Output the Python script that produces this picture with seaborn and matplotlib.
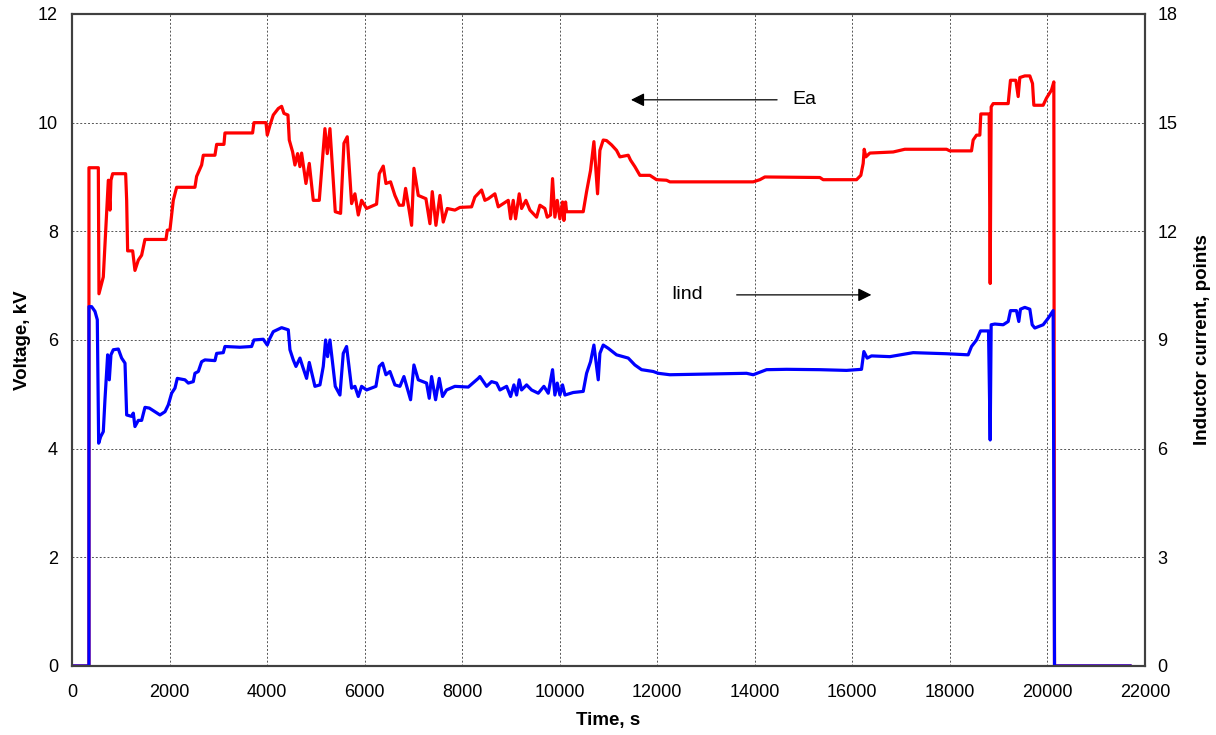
import matplotlib
matplotlib.use("Agg")
import matplotlib.pyplot as plt
import seaborn as sns
import pandas as pd

# ---- data -------------------------------------------------------------
ea_time = [0, 348, 348, 540, 553, 642, 676, 745, 779, 799, 834, 1100, 1121, 1141, 1244,
           1291, 1360, 1428, 1496, 1927, 1954, 2009, 2077, 2146, 2521, 2555, 2658, 2692,
           2931, 2966, 3116, 3136, 3703, 3731, 3977, 4004, 4059, 4127, 4230, 4298, 4346,
           4428, 4455, 4524, 4571, 4626, 4674, 4708, 4797, 4865, 4947, 5070, 5186, 5234,
           5289, 5398, 5507, 5576, 5644, 5733, 5801, 5870, 5938, 6040, 6245, 6300, 6382,
           6437, 6532, 6621, 6710, 6792, 6840, 6963, 7011, 7100, 7257, 7339, 7387, 7462,
           7544, 7612, 7694, 7851, 7954, 8193, 8261, 8398, 8466, 8535, 8671, 8740, 8842,
           8945, 8993, 9047, 9095, 9170, 9218, 9307, 9389, 9526, 9594, 9696, 9744, 9812,
           9853, 9901, 9949, 10004, 10058, 10086, 10120, 10141, 10482, 10551, 10632, 10701,
           10776, 10824, 10892, 10960, 11063, 11165, 11234, 11405, 11452, 11541, 11644,
           11849, 11985, 12190, 12259, 13967, 14104, 14206, 15334, 15402, 16086, 16174,
           16222, 16243, 16277, 16359, 16837, 17076, 17931, 17999, 18443, 18477, 18546,
           18614, 18634, 18805, 18826, 18846, 18887, 19195, 19242, 19352, 19400, 19434,
           19536, 19639, 19694, 19721, 19912, 19980, 20083, 20131, 20145, 21710]
ea_kv = [0, 0, 9.17, 9.17, 6.85, 7.16, 7.74, 8.94, 8.39, 8.94, 9.06, 9.06, 8.57, 7.64, 7.64,
         7.28, 7.47, 7.56, 7.85, 7.85, 8.02, 8.03, 8.57, 8.81, 8.81, 9.01, 9.22, 9.40,
         9.40, 9.60, 9.60, 9.81, 9.81, 10.00, 10.00, 9.77, 9.95, 10.14, 10.26, 10.30, 10.17,
         10.14, 9.68, 9.46, 9.22, 9.43, 9.19, 9.44, 8.88, 9.25, 8.57, 8.57, 9.89, 9.43,
         9.89, 8.36, 8.33, 9.62, 9.74, 8.51, 8.69, 8.30, 8.57, 8.42, 8.50, 9.06, 9.20,
         8.88, 8.91, 8.66, 8.48, 8.48, 8.79, 8.11, 9.16, 8.66, 8.60, 8.14, 8.73, 8.11,
         8.66, 8.17, 8.42, 8.39, 8.44, 8.45, 8.63, 8.76, 8.57, 8.60, 8.69, 8.45, 8.51,
         8.57, 8.23, 8.57, 8.23, 8.69, 8.42, 8.57, 8.39, 8.26, 8.48, 8.42, 8.26, 8.30,
         8.97, 8.26, 8.57, 8.23, 8.54, 8.20, 8.54, 8.36, 8.36, 8.73, 9.12, 9.65,
         8.69, 9.49, 9.68, 9.67, 9.59, 9.49, 9.37, 9.40, 9.31, 9.19, 9.03,
         9.03, 8.95, 8.94, 8.91, 8.91, 8.95, 9.00, 8.99, 8.95, 8.95, 9.03,
         9.25, 9.51, 9.37, 9.44, 9.46, 9.51, 9.51, 9.48, 9.48, 9.68, 9.77,
         9.77, 10.16, 10.16, 7.04, 10.29, 10.35, 10.35, 10.78, 10.78, 10.48, 10.83,
         10.86, 10.86, 10.72, 10.32, 10.32, 10.45, 10.60, 10.75, 0, 0]

iind_time = [0, 348, 348, 403, 471, 519, 547, 588, 642, 676, 731, 765, 799, 847, 950, 1018,
             1087, 1121, 1223, 1257, 1291, 1360, 1428, 1496, 1585, 1701, 1804, 1907, 1975,
             2043, 2111, 2159, 2316, 2385, 2487, 2521, 2590, 2658, 2726, 2931, 2966, 3102,
             3136, 3444, 3683, 3731, 3922, 4004, 4059, 4127, 4298, 4435, 4469, 4537, 4592,
             4674, 4728, 4810, 4865, 4981, 5084, 5152, 5200, 5241, 5289, 5398, 5494, 5562,
             5630, 5733, 5801, 5870, 5938, 6040, 6232, 6300, 6368, 6437, 6519, 6621, 6724,
             6806, 6942, 7011, 7100, 7270, 7325, 7373, 7455, 7530, 7598, 7680, 7851, 8125,
             8330, 8364, 8501, 8603, 8706, 8774, 8911, 8993, 9061, 9116, 9170, 9218, 9321,
             9423, 9560, 9676, 9765, 9853, 9901, 9949, 10004, 10058, 10107, 10277, 10482,
             10551, 10632, 10701, 10790, 10824, 10892, 10995, 11165, 11405, 11541, 11678,
             11917, 12020, 12259, 13831, 13967, 14241, 14650, 15334, 15880, 16188, 16236,
             16304, 16393, 16769, 17247, 17931, 18375, 18443, 18546, 18628, 18792, 18826,
             18846, 18921, 19092, 19195, 19242, 19365, 19413, 19447, 19536, 19639, 19687,
             19741, 19912, 20015, 20117, 20145, 21710]
iind_pts = [0, 0, 9.92, 9.92, 9.79, 9.56, 6.15, 6.33, 6.47, 7.35, 8.59, 7.90, 8.59, 8.73, 8.75, 8.50,
            8.36, 6.93, 6.89, 6.98, 6.61, 6.78, 6.78, 7.14, 7.12, 7.02, 6.93, 7.02, 7.21,
            7.53, 7.67, 7.94, 7.90, 7.81, 7.85, 8.08, 8.13, 8.40, 8.45, 8.43, 8.63, 8.65,
            8.82, 8.80, 8.82, 9.00, 9.02, 8.86, 9.05, 9.23, 9.34, 9.28, 8.73, 8.45, 8.27,
            8.50, 8.27, 7.94, 8.38, 7.72, 7.76, 8.27, 9.00, 8.54, 9.00, 7.72, 7.48, 8.63,
            8.82, 7.67, 7.72, 7.44, 7.72, 7.62, 7.72, 8.27, 8.36, 8.04, 8.13, 7.76, 7.72,
            7.99, 7.35, 8.31, 7.90, 7.81, 7.39, 7.99, 7.35, 7.94, 7.44, 7.62, 7.72, 7.70,
            7.94, 7.99, 7.72, 7.85, 7.81, 7.62, 7.72, 7.44, 7.76, 7.48, 7.90, 7.62, 7.76,
            7.62, 7.53, 7.72, 7.53, 8.18, 7.48, 7.81, 7.48, 7.76, 7.48, 7.55, 7.58,
            8.08, 8.40, 8.86, 7.90, 8.63, 8.86, 8.77, 8.59, 8.50, 8.31, 8.18,
            8.13, 8.08, 8.04, 8.08, 8.04, 8.18, 8.19, 8.18, 8.16, 8.19, 8.68,
            8.50, 8.56, 8.54, 8.65, 8.62, 8.59, 8.82, 9.00, 9.25, 9.25, 6.24,
            9.42, 9.44, 9.42, 9.51, 9.81, 9.81, 9.51, 9.85, 9.90, 9.85, 9.42,
            9.33, 9.42, 9.60, 9.81, 0, 0]

x_ticks = list(range(0, 22001, 2000))
kv_ticks = [0, 2, 4, 6, 8, 10, 12]
pts_ticks = [0, 3, 6, 9, 12, 15, 18]

ea_label = "Ea"
iind_label = "Iind"
ea_text_pos = (14780, 10.42)
ea_arrow = (14514, 11404)
iind_text_pos = (12280, 6.83)
iind_arrow = (13571, 16447)

# ---- plot -------------------------------------------------------------
sns.set_style("white")
plt.rcParams["font.family"] = ["Liberation Sans", "DejaVu Sans"]

fig = plt.figure(figsize=(12.16, 7.35), dpi=100)
ax = fig.add_axes([0.0592, 0.0939, 0.8824, 0.8871])
ax2 = ax.twinx()

df_ea = pd.DataFrame({"t": ea_time, "v": ea_kv})
df_i = pd.DataFrame({"t": iind_time, "v": iind_pts})

sns.lineplot(data=df_ea, x="t", y="v", ax=ax, color="#ff0000", lw=2.3,
             sort=False, estimator=None)
sns.lineplot(data=df_i, x="t", y="v", ax=ax2, color="#0000ff", lw=2.3,
             sort=False, estimator=None)

ax.set_xlim(0, 22000)
ax.set_ylim(0, 12)
ax2.set_ylim(0, 18)
ax.set_xticks(x_ticks)
ax.set_yticks(kv_ticks)
ax2.set_yticks(pts_ticks)

grid_kw = dict(color="#555555", linestyle=(0, (2, 2)), linewidth=0.7)
ax.grid(True, **grid_kw)
ax2.grid(False)
ax.set_axisbelow(True)

for a in (ax, ax2):
    for s in a.spines.values():
        s.set_color("#404040")
        s.set_linewidth(1.5)
    a.tick_params(labelsize=13, colors="black", length=0)
ax.tick_params(axis="x", pad=13)
ax.tick_params(axis="y", pad=10)
ax2.tick_params(axis="y", pad=9)

lab_kw = dict(fontsize=13.5, fontweight="bold", color="black")
ax.set_xlabel("Time, s", labelpad=8, **lab_kw)
ax.set_ylabel("Voltage, kV", labelpad=5, **lab_kw)
ax2.set_ylabel("Inductor current, points", labelpad=12, **lab_kw)

ax.annotate("", xy=(ea_arrow[1], ea_text_pos[1]), xytext=(ea_arrow[0], ea_text_pos[1]),
            arrowprops=dict(arrowstyle="-|>", color="black", lw=0.9,
                            mutation_scale=20))
ax.text(ea_text_pos[0], ea_text_pos[1], ea_label, fontsize=14, va="center", ha="left",
        color="black")
ax.annotate("", xy=(iind_arrow[1], iind_text_pos[1]), xytext=(iind_arrow[0], iind_text_pos[1]),
            arrowprops=dict(arrowstyle="-|>", color="black", lw=0.9,
                            mutation_scale=20))
ax.text(iind_text_pos[0], iind_text_pos[1], iind_label, fontsize=14, va="center", ha="left",
        color="black")

fig.savefig("out.png", dpi=100, facecolor="white")
